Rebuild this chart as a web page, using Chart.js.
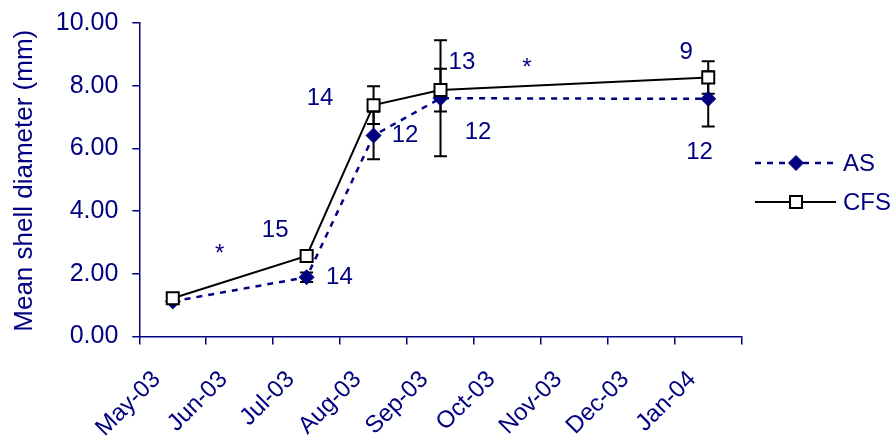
<!DOCTYPE html>
<html>
<head>
<meta charset="utf-8">
<script src="https://cdn.jsdelivr.net/npm/chart.js@4.4.0/dist/chart.umd.min.js"></script>
<style>
  html, body { margin: 0; padding: 0; background: #fff; }
  #wrap { width: 896px; height: 441px; }
</style>
</head>
<body>
<div id="wrap"><canvas id="shellChart" width="896" height="441"></canvas></div>
<script>
// months sampled
const months = ['May-03', 'Jun-03', 'Jul-03', 'Aug-03', 'Sep-03', 'Oct-03', 'Nov-03', 'Dec-03', 'Jan-04'];

// AS series (mean + error)
const asMean = [1.12, null, 1.89, 6.41, 7.60, null, null, null, 7.58];
const asErr  = [0,    null, 0.15, 0.76, 1.85, null, null, null, 0.88];

// CFS series (mean + error)
const cfsMean = [1.22, null, 2.57, 7.38, 7.86, null, null, null, 8.26];
const cfsErr  = [0,    null, 0.10, 0.60, 0.68, null, null, null, 0.52];

// y ticks
const yTicks = [0, 2, 4, 6, 8, 10];

// sample sizes and significance marks (text, x as month index, y value)
const noteText = ['*', '15', '14', '14', '12', '13', '12', '*', '9', '12'];
const noteX    = [0.70, 1.53, 2.49, 2.20, 3.47, 4.32, 4.56, 5.29, 7.67, 7.87];
const noteY    = [2.62, 3.37, 1.89, 7.60, 6.42, 8.75, 6.52, 8.55, 9.07, 5.88];

const NAVY = '#000080';
const FONT = "'Liberation Sans', Arial, sans-serif";

// error bars under the markers
const errorBars = {
  id: 'errorBars',
  beforeDatasetsDraw(chart) {
    const ctx = chart.ctx;
    const y = chart.scales.y;
    const errs = [asErr, cfsErr];
    ctx.save();
    ctx.strokeStyle = '#000';
    ctx.lineWidth = 2;
    chart.data.datasets.forEach((ds, di) => {
      const meta = chart.getDatasetMeta(di);
      meta.data.forEach((pt, i) => {
        const v = ds.data[i];
        const e = errs[di][i];
        if (v == null || !e) return;
        const x = pt.x;
        const top = y.getPixelForValue(v + e);
        const bot = y.getPixelForValue(v - e);
        ctx.beginPath();
        ctx.moveTo(x, top); ctx.lineTo(x, bot);
        ctx.moveTo(x - 6.5, top); ctx.lineTo(x + 6.5, top);
        ctx.moveTo(x - 6.5, bot); ctx.lineTo(x + 6.5, bot);
        ctx.stroke();
      });
    });
    ctx.restore();
  }
};

// n labels, asterisks, axis title and legend
const extras = {
  id: 'extras',
  afterDraw(chart) {
    const ctx = chart.ctx;
    const xs = chart.scales.x, ys = chart.scales.y;
    const area = chart.chartArea;
    ctx.save();
    ctx.fillStyle = NAVY;
    ctx.font = '24px ' + FONT;
    ctx.textAlign = 'center';
    ctx.textBaseline = 'middle';
    noteText.forEach((t, i) => {
      ctx.fillText(t, xs.getPixelForValue(noteX[i]), ys.getPixelForValue(noteY[i]));
    });

    // y axis title
    ctx.save();
    ctx.font = '26px ' + FONT;
    ctx.translate(25, (area.top + area.bottom) / 2 + 1);
    ctx.rotate(-Math.PI / 2);
    ctx.fillText('Mean shell diameter (mm)', 0, 0);
    ctx.restore();

    // legend
    const rows = [[0, 163], [1, 202]];
    rows.forEach(([di, ly]) => {
      const ds = chart.data.datasets[di];
      ctx.save();
      ctx.strokeStyle = ds.borderColor;
      ctx.lineWidth = ds.borderWidth;
      ctx.setLineDash(ds.borderDash || []);
      ctx.beginPath();
      ctx.moveTo(755, ly); ctx.lineTo(836, ly);
      ctx.stroke();
      ctx.restore();
      ctx.save();
      ctx.fillStyle = ds.pointBackgroundColor;
      ctx.strokeStyle = ds.pointBorderColor;
      ctx.lineWidth = ds.pointBorderWidth;
      Chart.helpers.drawPoint(ctx, {
        pointStyle: ds.pointStyle,
        radius: ds.pointRadius,
        borderWidth: ds.pointBorderWidth
      }, 796, ly);
      ctx.restore();
      ctx.fillStyle = NAVY;
      ctx.textAlign = 'left';
      ctx.fillText(ds.label, 843, ly + 1);
    });
    ctx.restore();
  }
};

const chart = new Chart(document.getElementById('shellChart'), {
  type: 'line',
  data: {
    labels: months,
    datasets: [
      {
        label: 'AS',
        data: asMean,
        order: 1,
        spanGaps: true,
        borderColor: NAVY,
        borderWidth: 2.5,
        borderDash: [6, 6],
        pointStyle: 'rectRot',
        pointRadius: 7.5,
        pointBorderWidth: 1,
        pointBackgroundColor: NAVY,
        pointBorderColor: NAVY,
        tension: 0
      },
      {
        label: 'CFS',
        data: cfsMean,
        order: 0,
        spanGaps: true,
        borderColor: '#000',
        borderWidth: 2,
        pointStyle: 'rect',
        pointRadius: 8.5,
        pointBorderWidth: 2,
        pointBackgroundColor: '#fff',
        pointBorderColor: '#000',
        tension: 0
      }
    ]
  },
  options: {
    responsive: false,
    animation: false,
    devicePixelRatio: 1,
    layout: { padding: { left: 0, top: 23, right: 154.3, bottom: 0 } },
    plugins: { legend: { display: false }, tooltip: { enabled: false } },
    scales: {
      x: {
        type: 'category',
        offset: true,
        afterFit(s) { s.height = 104.5; },
        grid: {
          offset: true,
          drawOnChartArea: false,
          drawTicks: true,
          tickLength: 8,
          color: NAVY,
          lineWidth: 1.5
        },
        border: { display: true, color: NAVY, width: 1.5 },
        ticks: {
          color: NAVY,
          font: { family: FONT, size: 24 },
          minRotation: 45,
          maxRotation: 45,
          autoSkip: false,
          labelOffset: -16,
          padding: 21
        }
      },
      y: {
        min: 0,
        max: 10,
        afterFit(s) {
          s.width = 139.3;
          s.paddingTop = 10;
          s.paddingBottom = 10;
        },
        afterBuildTicks(s) { s.ticks = yTicks.map(v => ({ value: v })); },
        grid: {
          drawOnChartArea: false,
          drawTicks: true,
          tickLength: 7,
          color: NAVY,
          lineWidth: 1.5
        },
        border: { display: true, color: NAVY, width: 1.5 },
        ticks: {
          color: NAVY,
          font: { family: FONT, size: 25 },
          padding: 14,
          callback: v => Number(v).toFixed(2)
        }
      }
    }
  },
  plugins: [errorBars, extras]
});
</script>
</body>
</html>
